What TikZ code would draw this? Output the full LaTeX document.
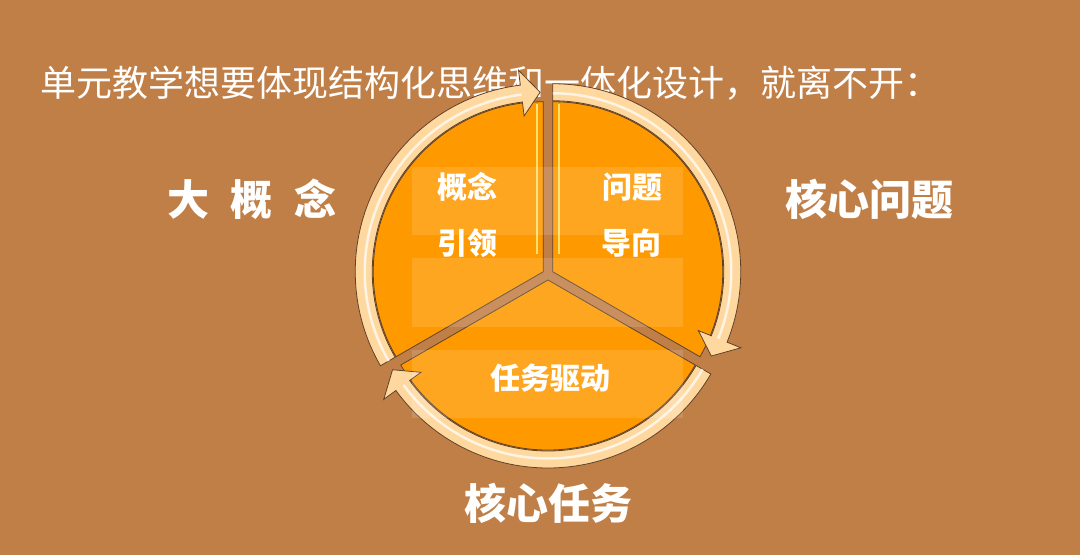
\documentclass[tikz,border=0pt]{standalone}
\usepackage{fontspec}
\newfontfamily\cjk{Noto Sans CJK SC}
\definecolor{bgc}{RGB}{193,127,72}
\definecolor{wedgec}{RGB}{255,153,0}
\definecolor{arrowc}{RGB}{255,216,160}
\definecolor{edgec}{RGB}{96,66,40}
\definecolor{glowc}{RGB}{255,226,110}
\tikzset{
  wedge/.style={fill=wedgec, draw=edgec, line width=0.8},
  ringshape/.style={fill=arrowc, draw=edgec, line width=0.8, line join=miter},
  gloss/.style={draw=white, opacity=0.7, line width=2.5},
  glowline/.style={draw=glowc, line width=1.6},
  rowbox/.style={fill=white, opacity=0.13},
  innertext/.style={text=white, inner sep=0, font=\cjk\bfseries\fontsize{30}{30}\selectfont},
  labeltext/.style={text=white, inner sep=0, font=\cjk\bfseries\fontsize{42}{42}\selectfont},
  titletext/.style={text=white, inner sep=0, anchor=west, font=\cjk\fontsize{36}{36}\selectfont}
}
% #1 start angle, #2 head base angle, #3 tip angle
\newcommand{\ringarrow}[3]{%
  \filldraw[ringshape] (#1:171) -- (#1:188) arc[start angle=#1, end angle=#2, radius=188]
    -- (#2:203) -- (#3:179.5) -- (#2:157) -- (#2:171)
    arc[start angle=#2, end angle=#1, radius=171] -- cycle;
  \draw[gloss] (#1:178.5) arc[start angle=#1, end angle=#2, radius=178.5];
}
\begin{document}
\begin{tikzpicture}[x=1pt,y=1pt]
\useasboundingbox (0,0) rectangle (1080,555);
\fill[bgc] (0,0) rectangle (1080,555);

% title
\node[titletext] (title) at (40,472) {单元教学想要体现结构化思维和一体化设计，就离不开：};

% apexes of the three exploded wedges
\coordinate (atl) at (543.24,283.25);
\coordinate (atr) at (552.76,283.25);
\coordinate (ab) at (548,275);

% wedges
\begin{scope}[shift={(atl)}]
  \filldraw[wedge] (0,0) -- (90:170) arc[start angle=90, end angle=210, radius=170] -- cycle;
  \draw[glowline] (-6,18) -- (-6,168);
  \ringarrow{210}{97}{91}
\end{scope}
\begin{scope}[shift={(atr)}]
  \filldraw[wedge] (0,0) -- (90:170) arc[start angle=90, end angle=-30, radius=170] -- cycle;
  \draw[glowline] (6,18) -- (6,168);
  \ringarrow{90}{-22}{-28}
\end{scope}
\begin{scope}[shift={(ab)}]
  \filldraw[wedge] (0,0) -- (-30:170) arc[start angle=-30, end angle=-150, radius=170] -- cycle;
  \ringarrow{-30}{-144}{-150}
\end{scope}

% translucent rows
\fill[rowbox] (412,320) rectangle (683,388);
\fill[rowbox] (412,228) rectangle (683,297);
\fill[rowbox] (412,137) rectangle (683,205);

% inner texts
\node[innertext] (t1a) at (467,368) {概念};
\node[innertext] (t1b) at (467,312) {引领};
\node[innertext] (t2a) at (632,368) {问题};
\node[innertext] (t2b) at (631,312) {导向};
\node[innertext] (t3) at (550,177) {任务驱动};

% outer labels
\node[labeltext] (l1) at (252,356) {大\hspace{22pt}概\hspace{22pt}念};
\node[labeltext] (l2) at (869,356) {核心问题};
\node[labeltext] (l3) at (548,52) {核心任务};
\end{tikzpicture}
\end{document}
